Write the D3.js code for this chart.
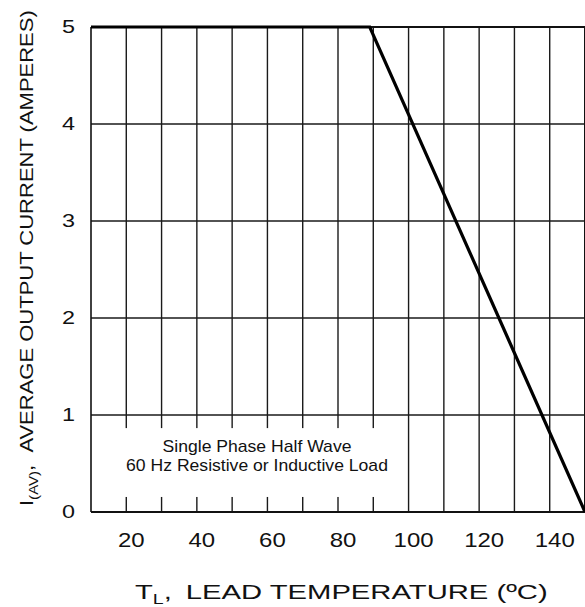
<!DOCTYPE html>
<html><head><meta charset="utf-8">
<script src="https://cdn.jsdelivr.net/npm/d3@7"></script>
<style>
html,body{margin:0;padding:0;background:#fff;}
svg{display:block;font-family:"Liberation Sans",Arial,Helvetica,sans-serif;}
</style></head>
<body>
<script>
// Data
const xTicks = [20, 40, 60, 80, 100, 120, 140];
const yTicks = [0, 1, 2, 3, 4, 5];
const xGrid = [20, 30, 40, 50, 60, 70, 80, 90, 100, 110, 120, 130, 140];
const yGrid = [1, 2, 3, 4];
const deratingTemp = [10, 89, 150];
const deratingCurrent = [5, 5, 0];
const noteLines = ["Single Phase Half Wave", "60 Hz Resistive or Inductive Load"];

const W = 585, H = 607;
const svg = d3.select("body").append("svg").attr("width", W).attr("height", H);

const x = d3.scaleLinear().domain([10, 150]).range([91, 585]);
const y = d3.scaleLinear().domain([0, 5]).range([512, 27]);

// grid
svg.append("g").selectAll("line").data(xGrid).join("line")
  .attr("x1", d => x(d)).attr("x2", d => x(d))
  .attr("y1", y(0)).attr("y2", y(5))
  .attr("stroke", "#1a1a1a").attr("stroke-width", 1.4);
svg.append("g").selectAll("line").data(yGrid).join("line")
  .attr("x1", x(10)).attr("x2", x(150))
  .attr("y1", d => y(d)).attr("y2", d => y(d))
  .attr("stroke", "#1a1a1a").attr("stroke-width", 1.4);

// note box (white, interrupts grid)
svg.append("rect")
  .attr("x", x(11)).attr("width", x(96) - x(11))
  .attr("y", y(0.865)).attr("height", y(0.155) - y(0.865))
  .attr("fill", "#fff");

// border
svg.append("line").attr("x1", x(10)).attr("x2", x(10)).attr("y1", y(0)).attr("y2", y(5))
  .attr("stroke", "#111").attr("stroke-width", 1.6);
svg.append("line").attr("x1", x(10)).attr("x2", x(150)).attr("y1", y(0)).attr("y2", y(0))
  .attr("stroke", "#111").attr("stroke-width", 2.2);
svg.append("line").attr("x1", x(10)).attr("x2", x(150)).attr("y1", y(5)).attr("y2", y(5))
  .attr("stroke", "#111").attr("stroke-width", 1.8);
svg.append("line").attr("x1", x(150)).attr("x2", x(150)).attr("y1", y(0)).attr("y2", y(5))
  .attr("stroke", "#111").attr("stroke-width", 2);

// curve
const pts = deratingTemp.map((t, i) => [t, deratingCurrent[i]]);
svg.append("path").datum(pts)
  .attr("d", d3.line().x(d => x(d[0])).y(d => y(d[1])))
  .attr("fill", "none").attr("stroke", "#000").attr("stroke-width", 3.2)
  .attr("stroke-linejoin", "miter");

// note text (slightly wide face)
svg.append("g").selectAll("text").data(noteLines).join("text")
  .attr("transform", (d, i) => `translate(257,${452 + i * 19}) scale(1.1,1)`)
  .attr("text-anchor", "middle").attr("font-size", 16).attr("fill", "#111")
  .text(d => d);

// y tick labels
svg.append("g").selectAll("text").data(yTicks).join("text")
  .attr("transform", d => `translate(75,${y(d)}) scale(1.3,1)`)
  .attr("dy", "0.36em")
  .attr("text-anchor", "end").attr("font-size", 18).attr("fill", "#111")
  .text(d => d);

// x tick labels
svg.append("g").selectAll("text").data(xTicks).join("text")
  .attr("transform", d => `translate(${x(d) + 5},547) scale(1.2,1)`)
  .attr("text-anchor", "middle").attr("font-size", 20).attr("fill", "#111")
  .text(d => d);

// helper: stretch text horizontally to a target length
function stretch(textSel, tx, ty, rot, target) {
  const w = textSel.node().getComputedTextLength();
  const s = target / w;
  textSel.attr("transform", `translate(${tx},${ty}) rotate(${rot}) scale(${s},1)`);
}

// x title
const xt = svg.append("text").attr("font-size", 21).attr("fill", "#111");
xt.append("tspan").text("T");
xt.append("tspan").attr("font-size", 14).attr("dy", 5).text("L");
xt.append("tspan").attr("dy", -5).text(",\u00a0\u2009LEAD TEMPERATURE (ºC)");
stretch(xt, 135, 599, 0, 413);

// y title
const yt = svg.append("text").attr("font-size", 19).attr("fill", "#111");
yt.append("tspan").text("I");
yt.append("tspan").attr("font-size", 13).attr("dy", 5).text("(AV)");
yt.append("tspan").attr("dy", -5).text(",\u00a0\u00a0AVERAGE OUTPUT CURRENT (AMPERES)");
stretch(yt, 33, 506, -90, 496);
</script>
</body></html>
